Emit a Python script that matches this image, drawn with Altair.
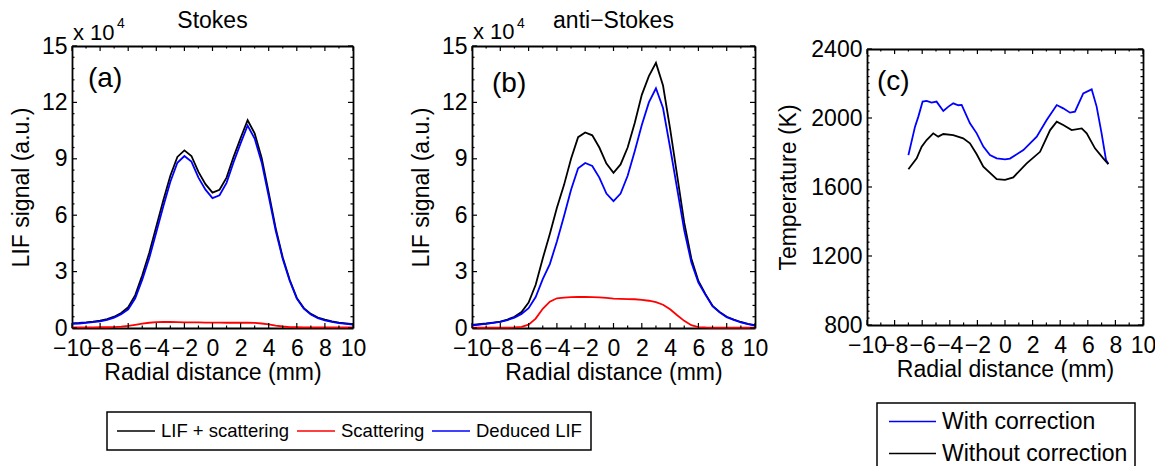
import altair as alt
import pandas as pd

FONT = "Liberation Sans"

# ---------------- data ----------------
# panels (a) and (b): radial distance (mm), LIF signal in units of 1e4 a.u.
AB_X = [-10.0, -9.5, -9.0, -8.5, -8.0, -7.5, -7.0, -6.5, -6.0, -5.5, -5.0,
        -4.5, -4.0, -3.5, -3.0, -2.5, -2.0, -1.5, -1.0, -0.5, 0.0,
        0.5, 1.0, 1.5, 2.0, 2.5, 3.0, 3.5, 4.0, 4.5, 5.0,
        5.5, 6.0, 6.5, 7.0, 7.5, 8.0, 8.5, 9.0, 9.5, 10.0]

A_TOTAL = [0.25, 0.27, 0.30, 0.34, 0.39, 0.47, 0.60, 0.80, 1.10, 1.75, 2.80,
           4.00, 5.40, 6.80, 8.10, 9.10, 9.45, 9.15, 8.30, 7.65, 7.20,
           7.35, 8.00, 9.10, 10.10, 11.05, 10.35, 9.05, 7.20, 5.30, 3.75,
           2.55, 1.60, 1.06, 0.75, 0.55, 0.44, 0.35, 0.29, 0.25, 0.21]
A_SCATTER = [0.03, 0.03, 0.03, 0.03, 0.04, 0.04, 0.05, 0.07, 0.11, 0.17, 0.23,
             0.28, 0.31, 0.32, 0.32, 0.31, 0.30, 0.30, 0.30, 0.29, 0.29,
             0.29, 0.28, 0.28, 0.28, 0.28, 0.27, 0.24, 0.19, 0.13, 0.08,
             0.05, 0.04, 0.03, 0.03, 0.03, 0.03, 0.03, 0.03, 0.03, 0.03]
A_DEDUCED = [0.22, 0.24, 0.27, 0.31, 0.35, 0.43, 0.55, 0.73, 0.99, 1.58, 2.57,
             3.72, 5.09, 6.48, 7.78, 8.79, 9.15, 8.85, 8.00, 7.36, 6.91,
             7.06, 7.72, 8.82, 9.82, 10.77, 10.08, 8.81, 7.01, 5.17, 3.67,
             2.50, 1.56, 1.03, 0.72, 0.52, 0.41, 0.32, 0.26, 0.22, 0.18]

B_TOTAL = [0.16, 0.20, 0.24, 0.29, 0.34, 0.45, 0.60, 0.85, 1.35, 2.30, 3.70,
           5.00, 6.40, 7.60, 9.00, 10.15, 10.40, 10.25, 9.60, 8.75, 8.26,
           8.70, 9.60, 10.90, 12.40, 13.40, 14.10, 12.90, 10.60, 8.10, 5.60,
           3.70, 2.50, 1.80, 1.18, 0.85, 0.60, 0.45, 0.32, 0.22, 0.15]
B_SCATTER = [0.02, 0.02, 0.02, 0.02, 0.02, 0.02, 0.03, 0.06, 0.18, 0.50, 1.02,
             1.40, 1.58, 1.62, 1.64, 1.65, 1.65, 1.64, 1.63, 1.60, 1.56,
             1.55, 1.54, 1.53, 1.50, 1.45, 1.38, 1.24, 1.00, 0.68, 0.38,
             0.15, 0.05, 0.03, 0.02, 0.02, 0.02, 0.02, 0.02, 0.02, 0.02]
B_DEDUCED = [0.14, 0.18, 0.22, 0.27, 0.32, 0.42, 0.55, 0.75, 1.05, 1.65, 2.60,
             3.40, 4.60, 5.95, 7.35, 8.50, 8.78, 8.62, 8.00, 7.15, 6.75,
             7.15, 8.10, 9.40, 10.80, 12.00, 12.75, 11.70, 9.60, 7.40, 5.20,
             3.50, 2.42, 1.76, 1.16, 0.83, 0.58, 0.43, 0.30, 0.20, 0.13]

# panel (c): temperature (K)
C_WITH_X = [-7.0, -6.52, -6.28, -5.97, -5.68, -5.32, -4.96, -4.47, -4.1, -3.75,
            -3.38, -3.14, -2.54, -2.05, -1.57, -1.09, -0.6, 0.0, 0.36, 1.33,
            2.30, 3.02, 3.75, 4.22, 4.71, 5.07, 5.67, 6.28, 6.64, 7.0, 7.32, 7.49]
C_WITH_T = [1785, 1950, 2008, 2095, 2099, 2089, 2095, 2041, 2066, 2085,
            2074, 2076, 1969, 1911, 1834, 1785, 1766, 1760, 1765, 1814,
            1892, 1988, 2075, 2056, 2031, 2037, 2143, 2166, 2066, 1911, 1757, 1733]
C_WITHOUT_X = [-7.0, -6.4, -6.04, -5.68, -5.2, -4.84, -4.47, -3.75, -3.03, -2.54,
               -2.05, -1.57, -0.6, 0.0, 0.6, 1.57, 2.54, 3.27, 3.75, 4.22,
               4.83, 5.56, 5.92, 6.52, 7.12, 7.49]
C_WITHOUT_T = [1703, 1766, 1834, 1872, 1911, 1892, 1907, 1901, 1882, 1853,
               1790, 1718, 1645, 1641, 1656, 1737, 1804, 1930, 1979, 1959,
               1930, 1940, 1911, 1824, 1766, 1733]

AB_SERIES = ["LIF + scattering", "Scattering", "Deduced LIF"]
AB_COLORS = ["#000000", "#ff0000", "#0000ff"]
C_SERIES = ["With correction", "Without correction"]
C_COLORS = ["#0000ff", "#000000"]

X_TICKS = [-10, -8, -6, -4, -2, 0, 2, 4, 6, 8, 10]
X_MINOR = [-9, -7, -5, -3, -1, 1, 3, 5, 7, 9]
AB_Y_TICKS = [0, 3, 6, 9, 12, 15]
AB_Y_MINOR = [round(0.6 * k, 2) for k in range(1, 25) if k % 5 != 0]
C_Y_TICKS = [800, 1200, 1600, 2000, 2400]
C_Y_MINOR = [v for v in range(840, 2400, 40) if v % 400 != 0]


def long_df(x, series, values):
    rows = []
    for name, vals in zip(series, values):
        for xi, vi in zip(x, vals):
            rows.append({"x": xi, "v": vi, "s": name})
    return pd.DataFrame(rows)


df_a = long_df(AB_X, AB_SERIES, [A_TOTAL, A_SCATTER, A_DEDUCED])
df_b = long_df(AB_X, AB_SERIES, [B_TOTAL, B_SCATTER, B_DEDUCED])
df_c = pd.concat([
    pd.DataFrame({"x": C_WITH_X, "v": C_WITH_T, "s": C_SERIES[0]}),
    pd.DataFrame({"x": C_WITHOUT_X, "v": C_WITHOUT_T, "s": C_SERIES[1]}),
], ignore_index=True)

# ---------------- layout (pixels, relative to the view origin) ----------------
W, H = 1071, 282
MAJOR, MINOR = 5, 2.5


def panel(df, x0, x1, ytop, ybot, ydom, ymaj, ymin, ytitle, cscale, legend, ytitle_pad):
    def xs():
        return alt.Scale(domain=[-10, 10], range=[x0, x1], nice=False, zero=False)

    def ys():
        return alt.Scale(domain=ydom, range=[ybot, ytop], nice=False, zero=False)

    base = alt.Chart(df)
    # visible lines + labelled bottom/left axes (bottom/left edges of the frame)
    lines = base.mark_line(strokeWidth=1.8).encode(
        x=alt.X("x:Q", scale=xs(),
                axis=alt.Axis(orient="bottom", offset=ybot - H, values=X_TICKS, ticks=False,
                              format="d", labelPadding=9, title="Radial distance (mm)",
                              titlePadding=1)),
        y=alt.Y("v:Q", scale=ys(),
                axis=alt.Axis(orient="left", offset=-x0, values=ymaj, ticks=False,
                              format="d", labelPadding=5, title=ytitle,
                              titlePadding=ytitle_pad)),
        color=alt.Color("s:N", scale=cscale, legend=legend),
    )
    # top/right edges of the frame
    frame = base.mark_point(opacity=0).encode(
        x=alt.X("x:Q", scale=xs(),
                axis=alt.Axis(orient="top", offset=-ytop, values=X_TICKS, labels=False,
                              ticks=False, title=None)),
        y=alt.Y("v:Q", scale=ys(),
                axis=alt.Axis(orient="right", offset=x1 - W, values=ymaj, labels=False,
                              ticks=False, title=None)),
    )

    # inward tick marks on all four edges, placed through the panel's scales
    def xt(vals, y0, y1):
        return alt.Chart(pd.DataFrame({"t": vals})).mark_rule(
            color="black", strokeWidth=1.2
        ).encode(x=alt.X("t:Q", scale=xs(), axis=None), y=alt.value(y0), y2=alt.value(y1))

    def yt(vals, xa, xb):
        return alt.Chart(pd.DataFrame({"t": vals})).mark_rule(
            color="black", strokeWidth=1.2
        ).encode(y=alt.Y("t:Q", scale=ys(), axis=None), x=alt.value(xa), x2=alt.value(xb))

    ticks = [
        xt(X_TICKS, ybot, ybot - MAJOR), xt(X_MINOR, ybot, ybot - MINOR),
        xt(X_TICKS, ytop, ytop + MAJOR), xt(X_MINOR, ytop, ytop + MINOR),
        yt(ymaj, x0, x0 + MAJOR), yt(ymin, x0, x0 + MINOR),
        yt(ymaj, x1, x1 - MAJOR), yt(ymin, x1, x1 - MINOR),
    ]
    return [lines, frame] + ticks


def text(t, x, y, size, align="left"):
    return alt.Chart(alt.Data(values=[{}])).mark_text(
        text=t, font=FONT, fontSize=size, align=align, baseline="alphabetic", color="black"
    ).encode(x=alt.value(x), y=alt.value(y))


legend_ab = alt.Legend(
    title=None, orient="none", legendX=35, legendY=366, direction="horizontal",
    symbolType="stroke", symbolSize=1444, symbolStrokeWidth=1.5,
    labelFont=FONT, labelFontSize=18.5, labelColor="black", labelOffset=5,
    labelLimit=400, columnPadding=6, padding=9, clipHeight=20, strokeColor="black",
)
legend_c = alt.Legend(
    title=None, orient="none", legendX=805, legendY=357, direction="vertical",
    symbolType="stroke", symbolSize=2209, symbolStrokeWidth=1.5,
    labelFont=FONT, labelFontSize=23, labelColor="black", labelOffset=5,
    labelLimit=400, rowPadding=8, padding=7, clipHeight=23, symbolOffset=4,
    strokeColor="black",
)

cs_a = alt.Scale(domain=AB_SERIES, range=AB_COLORS)
cs_b = alt.Scale(domain=AB_SERIES, range=AB_COLORS)
cs_c = alt.Scale(domain=C_SERIES, range=C_COLORS)

layers = []
layers += panel(df_a, 0, 281, 0, 282, [0, 15], AB_Y_TICKS, AB_Y_MINOR,
                "LIF signal (a.u.)", cs_a, legend_ab, 8)
layers += panel(df_b, 400, 683, 0, 282, [0, 15], AB_Y_TICKS, AB_Y_MINOR,
                "LIF signal (a.u.)", cs_b, None, 8)
layers += panel(df_c, 795, 1071, 3, 279, [800, 2400], C_Y_TICKS, C_Y_MINOR,
                "Temperature (K)", cs_c, legend_c, 10)

layers += [
    text("Stokes", 140.5, -18.5, 23, "center"),
    text("anti\u2212Stokes", 541.5, -17.7, 23, "center"),
    text("x 10", 1, -6, 22),
    text("4", 45, -17.7, 14),
    text("x 10", 401, -7, 22),
    text("4", 445, -17.7, 14),
    text("(a)", 16, 41.3, 28),
    text("(b)", 420, 46.3, 28),
    text("(c)", 805, 44, 28),
]

chart = alt.layer(*layers).resolve_scale(
    x="independent", y="independent", color="independent"
).resolve_axis(
    x="independent", y="independent"
).resolve_legend(
    color="independent"
).properties(
    width=W, height=H,
    autosize=alt.AutoSizeParams(type="none"),
    padding={"left": 64, "top": 38, "right": 12, "bottom": 138},
).configure_view(
    strokeWidth=0
).configure_axis(
    labelFont=FONT, titleFont=FONT, labelFontSize=23, titleFontSize=23,
    labelColor="black", titleColor="black", tickColor="black", domainColor="black",
    titleFontWeight="normal", grid=False, labelFlush=False, labelOverlap=False,
    domainWidth=1.8,
).configure_legend(
    strokeWidth=1.5
)

chart.save("out.html", embed_options={"renderer": "svg", "actions": False})
